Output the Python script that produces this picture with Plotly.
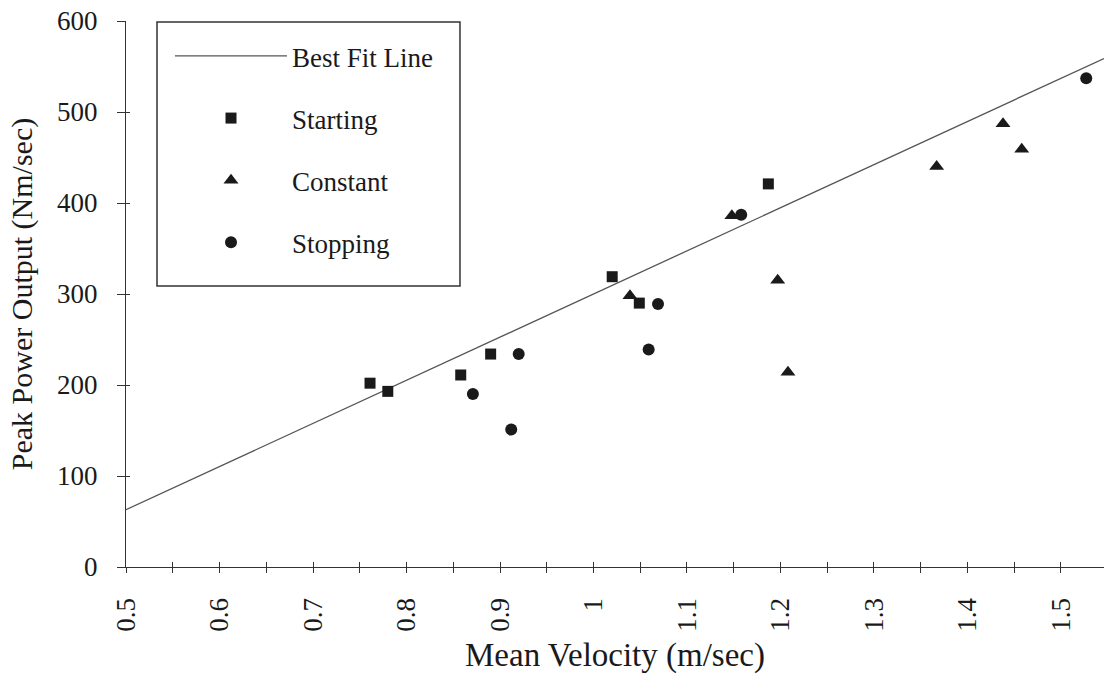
import numpy as np
import plotly.graph_objects as go

# ---- data ----
starting_x = [0.761, 0.780, 0.858, 0.890, 1.020, 1.049, 1.187]
starting_y = [202, 193, 211, 234, 319, 290, 421]

constant_x = [1.039, 1.148, 1.197, 1.208, 1.367, 1.438, 1.458]
constant_y = [298, 386, 315, 214, 440, 487, 459]

stopping_x = [0.871, 0.912, 0.920, 1.059, 1.069, 1.158, 1.527]
stopping_y = [190, 151, 234, 239, 289, 387, 537]

fit_intercept = -174.0
fit_slope = 474.0

x_range = [0.5, 1.546]
y_range = [0, 600]
x_major_ticks = [0.5, 0.6, 0.7, 0.8, 0.9, 1.0, 1.1, 1.2, 1.3, 1.4, 1.5]
x_tick_labels = ["0.5", "0.6", "0.7", "0.8", "0.9", "1", "1.1", "1.2", "1.3", "1.4", "1.5"]
y_ticks = [0, 100, 200, 300, 400, 500, 600]

fit_x = np.array(x_range)
fit_y = fit_intercept + fit_slope * fit_x

FONT = "Liberation Serif"
INK = "#1a1a1a"
AX = "#333333"

fig = go.Figure()
fig.add_trace(go.Scatter(x=fit_x, y=fit_y, mode="lines", name="Best Fit Line",
                         line=dict(color="#555555", width=1.3), legendgroup="a"))
fig.add_trace(go.Scatter(x=starting_x, y=starting_y, mode="markers", name="Starting",
                         marker=dict(symbol="square", size=11, color=INK), legendgroup="b"))
fig.add_trace(go.Scatter(x=constant_x, y=constant_y, mode="markers", name="Constant",
                         marker=dict(symbol="triangle-up", size=13, color=INK), legendgroup="c"))
fig.add_trace(go.Scatter(x=stopping_x, y=stopping_y, mode="markers", name="Stopping",
                         marker=dict(symbol="circle", size=12, color=INK), legendgroup="d"))
# invisible trace to host the inner-tick overlay axes
fig.add_trace(go.Scatter(x=x_range, y=y_range, mode="markers", xaxis="x2", yaxis="y2",
                         marker=dict(opacity=0), showlegend=False, hoverinfo="skip"))

fig.update_layout(
    width=1104, height=674,
    margin=dict(l=126, r=0, t=21, b=107),
    paper_bgcolor="white", plot_bgcolor="white",
    font=dict(family=FONT, size=27, color=INK),
    showlegend=True,
    legend=dict(
        x=0.045, y=0.980, xanchor="left", yanchor="top",
        borderwidth=0, bgcolor="rgba(0,0,0,0)",
        font=dict(family=FONT, size=27, color=INK),
        tracegroupgap=24, itemwidth=112,
        traceorder="grouped",
    ),
    shapes=[dict(type="rect", xref="paper", yref="paper",
                 x0=0.0317, x1=0.3415, y0=0.5147, y1=0.998,
                 line=dict(color=AX, width=1.5), fillcolor="rgba(0,0,0,0)", layer="below")],
    xaxis=dict(
        range=x_range, showgrid=False, zeroline=False,
        showline=True, linecolor=AX, linewidth=1.3,
        tickmode="array", tickvals=x_major_ticks, ticktext=x_tick_labels,
        ticks="outside", ticklen=5, tickwidth=1.3, tickcolor=AX,
        ticklabelstandoff=14,
        tickangle=-90, tickfont=dict(family=FONT, size=27, color=INK),
        minor=dict(dtick=0.05, tick0=0.5, ticks="outside", ticklen=5, tickwidth=1.3, tickcolor=AX),
        title=dict(text="Mean Velocity (m/sec)", font=dict(family=FONT, size=33, color=INK), standoff=14),
    ),
    yaxis=dict(
        range=y_range, showgrid=False, zeroline=False,
        showline=True, linecolor=AX, linewidth=1.3,
        tickmode="array", tickvals=y_ticks,
        ticks="outside", ticklen=8, tickwidth=1.3, tickcolor=AX,
        ticklabelstandoff=14,
        tickfont=dict(family=FONT, size=27, color=INK),
        title=dict(text="Peak Power Output (Nm/sec)", font=dict(family=FONT, size=30, color=INK), standoff=15),
    ),
    xaxis2=dict(
        range=x_range, overlaying="x", showgrid=False, zeroline=False, showline=False,
        tickmode="linear", tick0=0.5, dtick=0.05, ticks="inside", ticklen=5, tickwidth=1.3,
        tickcolor=AX, showticklabels=False, side="bottom",
    ),
    yaxis2=dict(
        range=y_range, overlaying="y", showgrid=False, zeroline=False, showline=False,
        tickmode="array", tickvals=y_ticks, ticks="inside", ticklen=4, tickwidth=1.3,
        tickcolor=AX, showticklabels=False, side="left",
    ),
)

fig.write_html("out.html")
